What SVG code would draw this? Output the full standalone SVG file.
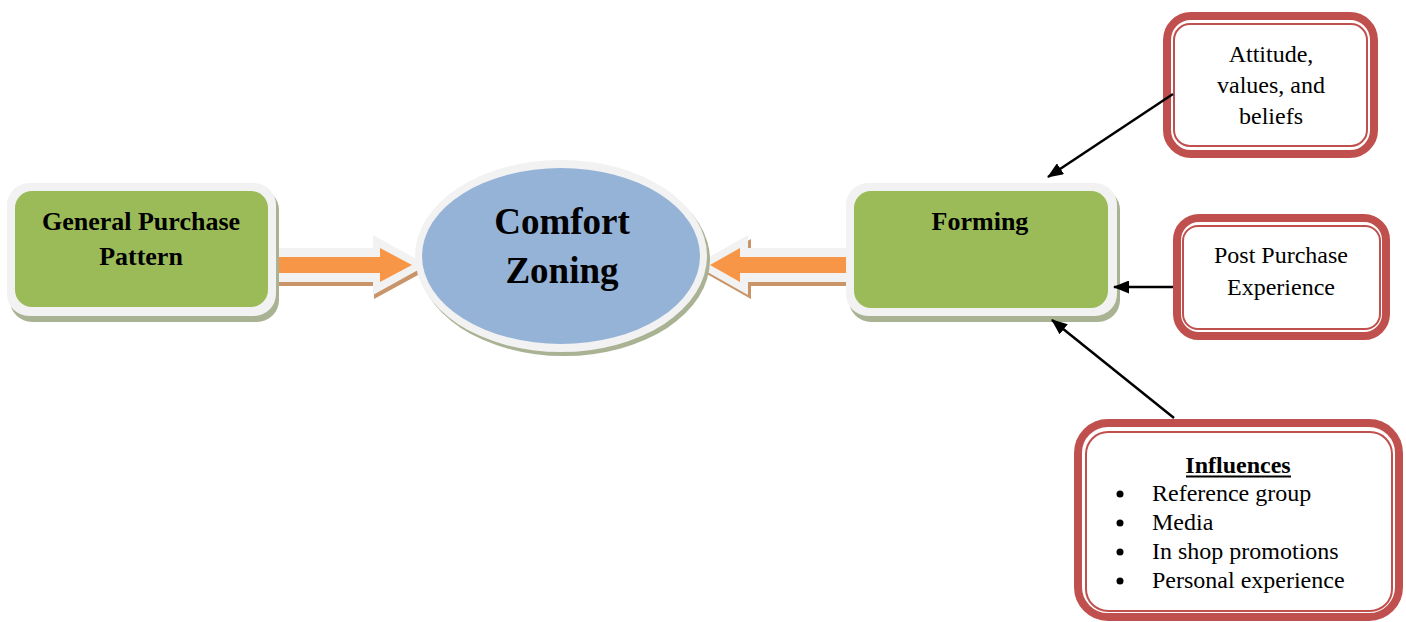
<svg xmlns="http://www.w3.org/2000/svg" width="1406" height="622" viewBox="0 0 1406 622">
  <defs>
    <marker id="tip" viewBox="0 0 16 13" refX="15" refY="6.5" markerWidth="16" markerHeight="13" markerUnits="userSpaceOnUse" orient="auto">
      <path d="M0,0 L16,6.5 L0,13 Z" fill="#000"/>
    </marker>
    <style>
      .shadow { fill: #aab294; }
      .rim { fill: #f2f2f2; }
      .green { fill: #9bbb59; }
      .blue { fill: #95b3d7; }
      .orange { fill: #f79646; }
      .oshadow { fill: #c99468; }
      .thick { fill: #fff; stroke: #c0504d; stroke-width: 8; }
      .thin { fill: none; stroke: #c0504d; stroke-width: 2; }
      .bold { font-family: "Liberation Serif", "Times New Roman", serif; font-weight: bold; fill: #000; text-anchor: middle; }
      .plain { font-family: "Liberation Serif", "Times New Roman", serif; font-size: 24px; fill: #000; }
      .mid { text-anchor: middle; }
      .link { stroke: #000; stroke-width: 2.5; fill: none; marker-end: url(#tip); }
    </style>
  </defs>

  <!-- block arrows into the central ellipse -->
  <g id="arrow-left-in">
    <polygon class="oshadow" points="276,252 374,252 374,239 429,269 374,299 374,286 276,286"/>
    <polygon class="rim" points="275,248 373,248 373,235 427,265 373,295 373,282 275,282"/>
    <polygon class="orange" points="277,257 380,257 380,248 412,265 380,282 380,273 277,273"/>
  </g>
  <g id="arrow-right-in">
    <polygon class="oshadow" points="858,252 751,252 751,239 698,269 751,299 751,286 858,286"/>
    <polygon class="rim" points="855,248 748,248 748,235 695,265 748,295 748,282 855,282"/>
    <polygon class="orange" points="847,257 740,257 740,248 710,265 740,282 740,273 847,273"/>
  </g>

  <g id="general-purchase-pattern">
    <rect class="shadow" x="10" y="188" width="269" height="134" rx="22"/>
    <rect class="rim" x="7" y="183" width="269" height="133" rx="22"/>
    <rect class="green" x="15" y="191" width="253" height="116" rx="17"/>
    <text class="bold" font-size="26" x="141" y="230">General Purchase</text>
    <text class="bold" font-size="26" x="141" y="265">Pattern</text>
  </g>

  <g id="comfort-zoning">
    <ellipse class="shadow" cx="564" cy="260" rx="146" ry="96"/>
    <ellipse class="rim" cx="561" cy="256" rx="146" ry="96"/>
    <ellipse class="blue" cx="561" cy="256" rx="139" ry="88"/>
    <text class="bold" font-size="37" x="562" y="234">Comfort</text>
    <text class="bold" font-size="37" x="562" y="283">Zoning</text>
  </g>

  <g id="forming">
    <rect class="shadow" x="849" y="188" width="271" height="134" rx="22"/>
    <rect class="rim" x="846" y="183" width="271" height="133" rx="22"/>
    <rect class="green" x="854" y="191" width="254" height="117" rx="17"/>
    <text class="bold" font-size="26" x="980" y="230">Forming</text>
  </g>

  <g id="attitude-values-beliefs">
    <rect class="thick" x="1167" y="16" width="207" height="138" rx="24"/>
    <rect class="thin" x="1174" y="24" width="193" height="122" rx="16"/>
    <text class="plain mid" x="1271" y="62">Attitude,</text>
    <text class="plain mid" x="1271" y="93">values, and</text>
    <text class="plain mid" x="1271" y="124">beliefs</text>
  </g>

  <g id="post-purchase-experience">
    <rect class="thick" x="1177" y="218" width="209" height="118" rx="22"/>
    <rect class="thin" x="1183" y="226" width="197" height="103" rx="15"/>
    <text class="plain mid" x="1281" y="263">Post Purchase</text>
    <text class="plain mid" x="1281" y="295">Experience</text>
  </g>

  <g id="influences">
    <rect class="thick" x="1078" y="423" width="321" height="194" rx="30"/>
    <rect class="thin" x="1086" y="432" width="306" height="179" rx="22"/>
    <text class="bold" font-size="24" x="1238" y="473">Influences</text>
    <line x1="1186" y1="476.5" x2="1291" y2="476.5" stroke="#000" stroke-width="2"/>
    <g fill="#000">
      <circle cx="1120" cy="494" r="3.5"/>
      <circle cx="1120" cy="523" r="3.5"/>
      <circle cx="1120" cy="552" r="3.5"/>
      <circle cx="1120" cy="581" r="3.5"/>
    </g>
    <text class="plain" x="1152" y="501">Reference group</text>
    <text class="plain" x="1152" y="530">Media</text>
    <text class="plain" x="1152" y="559">In shop promotions</text>
    <text class="plain" x="1152" y="588">Personal experience</text>
  </g>

  <g id="connectors">
    <line class="link" x1="1173" y1="94" x2="1048" y2="177"/>
    <line class="link" x1="1173" y1="287" x2="1114" y2="287"/>
    <line class="link" x1="1174" y1="418" x2="1052" y2="320"/>
  </g>
</svg>
